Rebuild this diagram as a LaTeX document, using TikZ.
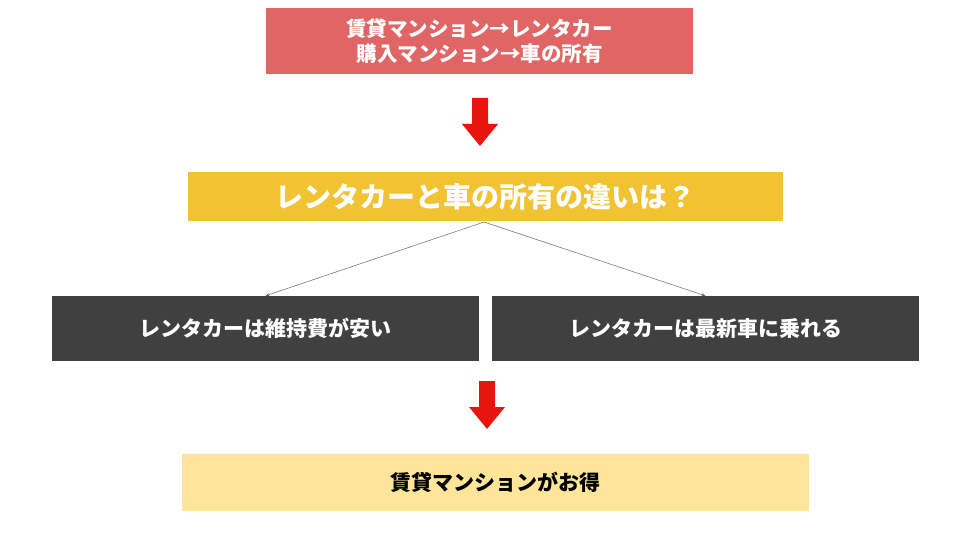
\documentclass[tikz,border=0pt]{standalone}
\usepackage{fontspec}
\setmainfont{Noto Sans CJK JP}
\usetikzlibrary{arrows.meta}
\definecolor{topred}{HTML}{E06666}
\definecolor{midyel}{HTML}{F1C232}
\definecolor{dark}{HTML}{404040}
\definecolor{lightyel}{HTML}{FFE599}
\definecolor{arrred}{HTML}{E8140E}
\tikzset{
  box/.style={inner sep=0pt, text=white, font=\bfseries\fontsize{21}{26}\selectfont, align=center},
  bigarrow/.style={fill=arrred, draw=none},
  link/.style={draw=gray!80!black, line width=0.5pt, -{Stealth[length=4pt,width=3pt]}}
}
\begin{document}
\begin{tikzpicture}[x=1pt,y=-1pt]
\useasboundingbox (0,0) rectangle (960,540);
\node[box, fill=topred, minimum width=427, minimum height=66, font=\bfseries\fontsize{20.5}{25}\selectfont] (top) at (479.5,41) {賃貸マンション→レンタカー\\購入マンション→車の所有};
\node[box, fill=midyel, minimum width=595, minimum height=49, font=\bfseries\fontsize{28}{32}\selectfont] (mid) at (485.5,196.5) {レンタカーと車の所有の違いは？};
\node[box, fill=dark, minimum width=427, minimum height=65] (left) at (265.5,328.5) {レンタカーは維持費が安い};
\node[box, fill=dark, minimum width=427, minimum height=65] (right) at (705.5,328.5) {レンタカーは最新車に乗れる};
\node[box, fill=lightyel, text=black, minimum width=627, minimum height=57] (bot) at (495.5,482.5) {賃貸マンションがお得};
\coordinate (fork) at (484,222);
\draw[link] (fork) -- (left.north);
\draw[link] (fork) -- (right.north);
\fill[bigarrow] (472,98) -- (488,98) -- (488,124) -- (498,124) -- (480,146) -- (462,124) -- (472,124) -- cycle;
\fill[bigarrow] (479,381) -- (495,381) -- (495,407) -- (505,407) -- (487,429) -- (469,407) -- (479,407) -- cycle;
\end{tikzpicture}
\end{document}
